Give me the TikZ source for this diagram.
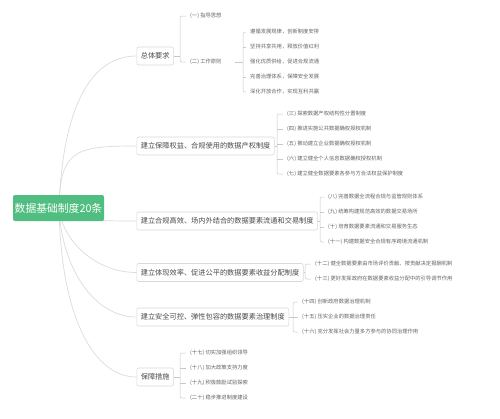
\documentclass[tikz,border=0pt]{standalone}
\usepackage{fontspec}
\setmainfont{Noto Sans CJK SC}
\definecolor{rootgreen}{RGB}{80,190,128}
\definecolor{linegray}{RGB}{220,220,220}
\definecolor{brkgray}{RGB}{200,200,200}
\definecolor{boxgray}{RGB}{218,218,218}
\definecolor{txtdark}{RGB}{75,75,75}
\definecolor{txtleaf}{RGB}{100,100,100}
\begin{document}
\begin{tikzpicture}[x=1pt,y=-1pt,
  rootnode/.style={fill=rootgreen, text=white, rounded corners=2pt, minimum width=91pt, minimum height=26pt, inner sep=0pt, font=\fontsize{10.8}{13}\selectfont},
  topicbox/.style={draw=boxgray, fill=white, rounded corners=2pt, line width=0.6pt, anchor=west, minimum height=18pt, inner xsep=4pt, inner ysep=0pt, font=\fontsize{7.2}{8}\selectfont, text=txtdark},
  leaf/.style={anchor=west, inner xsep=4pt, inner ysep=1pt, font=\fontsize{5.3}{6}\selectfont, text=txtleaf},
  link/.style={draw=linegray, line width=0.7pt},
  brk/.style={draw=brkgray, line width=0.5pt},
  brkc/.style={draw=brkgray, line width=0.5pt, rounded corners=2pt}]
\useasboundingbox (0,0) rectangle (500,418);
\fill[white] (0,0) rectangle (500,418);

% ---------- level 1 topics ----------
\node[topicbox] (t1) at (136.5,56) {总体要求};
\node[topicbox] (t2) at (136.5,146) {建立保障权益、合规使用的数据产权制度};
\node[topicbox] (t3) at (136.5,221) {建立合规高效、场内外结合的数据要素流通和交易制度};
\node[topicbox] (t4) at (136.5,272.5) {建立体现效率、促进公平的数据要素收益分配制度};
\node[topicbox] (t5) at (136.5,317) {建立安全可控、弹性包容的数据要素治理制度};
\node[topicbox] (t6) at (136.5,377) {保障措施};

% ---------- root connectors ----------
\coordinate (rc) at (59,208);
\draw[link] (rc) .. controls (62,120) and (85,56) .. (t1.west);
\draw[link] (rc) .. controls (60,150) and (75,146) .. (t2.west);
\draw[link] (rc) .. controls (80,221) and (100,221) .. (t3.west);
\draw[link] (rc) .. controls (62,240) and (95,272.5) .. (t4.west);
\draw[link] (rc) .. controls (62,270) and (95,317) .. (t5.west);
\draw[link] (rc) .. controls (61,320) and (95,377) .. (t6.west);

\node[rootnode] (root) at (58.5,208) {数据基础制度20条};

% ---------- group A : 总体要求 ----------
\coordinate (bA) at (180,56);
\node[leaf] (a1) at (186,16) {(一) 指导思想};
\node[leaf] (a2) at (186,62) {(二) 工作原则};
\draw[brk] (t1.east) -- (bA);
\draw[brkc] (a1.west) -| (bA) |- (a2.west);

% ---------- group B : 工作原则 ----------
\coordinate (bB) at (243,62);
\node[leaf] (b1) at (246,32) {遵循发展规律，创新制度安排};
\node[leaf] (b2) at (246,47) {坚持共享共用，释放价值红利};
\node[leaf] (b3) at (246,62) {强化优质供给，促进合规流通};
\node[leaf] (b4) at (246,77) {完善治理体系，保障安全发展};
\node[leaf] (b5) at (246,92) {深化开放合作，实现互利共赢};
\draw[brk] ([xshift=9pt]a2.east) -- (bB);
\draw[brkc] (b1.west) -| (bB) |- (b5.west);
\draw[brk] (bB |- b2.west) -- (b2.west);
\draw[brk] (bB |- b4.west) -- (b4.west);

% ---------- group C : 数据产权 ----------
\coordinate (bC) at (277,146);
\node[leaf] (c1) at (283,114) {(三) 探索数据产权结构性分置制度};
\node[leaf] (c2) at (283,129) {(四) 推进实施公共数据确权授权机制};
\node[leaf] (c3) at (283,144) {(五) 推动建立企业数据确权授权机制};
\node[leaf] (c4) at (283,159) {(六) 建立健全个人信息数据确权授权机制};
\node[leaf] (c5) at (283,174) {(七) 建立健全数据要素各参与方合法权益保护制度};
\draw[brk] (t2.east) -- (bC);
\draw[brkc] (c1.west) -| (bC) |- (c5.west);
\draw[brk] (bC |- c2.west) -- (c2.west);
\draw[brk] (bC |- c3.west) -- (c3.west);
\draw[brk] (bC |- c4.west) -- (c4.west);

% ---------- group D : 流通和交易 ----------
\coordinate (bD) at (320,221);
\node[leaf] (d1) at (324,197) {(八) 完善数据全流程合规与监管规则体系};
\node[leaf] (d2) at (324,212) {(九) 统筹构建规范高效的数据交易场所};
\node[leaf] (d3) at (324,227) {(十) 培育数据要素流通和交易服务生态};
\node[leaf] (d4) at (324,242) {(十一) 构建数据安全合规有序跨境流通机制};
\draw[brk] (t3.east) -- (bD);
\draw[brkc] (d1.west) -| (bD) |- (d4.west);
\draw[brk] (bD |- d2.west) -- (d2.west);
\draw[brk] (bD |- d3.west) -- (d3.west);

% ---------- group E : 收益分配 ----------
\coordinate (bE) at (305,272.5);
\node[leaf] (e1) at (311,264) {(十二) 健全数据要素由市场评价贡献、按贡献决定报酬机制};
\node[leaf] (e2) at (311,279) {(十三) 更好发挥政府在数据要素收益分配中的引导调节作用};
\draw[brk] (t4.east) -- (bE);
\draw[brkc] (e1.west) -| (bE) |- (e2.west);

% ---------- group F : 治理 ----------
\coordinate (bF) at (293,317);
\node[leaf] (f1) at (298,302) {(十四) 创新政府数据治理机制};
\node[leaf] (f2) at (298,317) {(十五) 压实企业的数据治理责任};
\node[leaf] (f3) at (298,332) {(十六) 充分发挥社会力量多方参与的协同治理作用};
\draw[brk] (t5.east) -- (bF);
\draw[brkc] (f1.west) -| (bF) |- (f3.west);
\draw[brk] (bF |- f2.west) -- (f2.west);

% ---------- group G : 保障措施 ----------
\coordinate (bG) at (180,377);
\node[leaf] (g1) at (186,353) {(十七) 切实加强组织领导};
\node[leaf] (g2) at (186,368) {(十八) 加大政策支持力度};
\node[leaf] (g3) at (186,383) {(十九) 积极鼓励试验探索};
\node[leaf] (g4) at (186,398) {(二十) 稳步推进制度建设};
\draw[brk] (t6.east) -- (bG);
\draw[brkc] (g1.west) -| (bG) |- (g4.west);
\draw[brk] (bG |- g2.west) -- (g2.west);
\draw[brk] (bG |- g3.west) -- (g3.west);
\end{tikzpicture}
\end{document}
